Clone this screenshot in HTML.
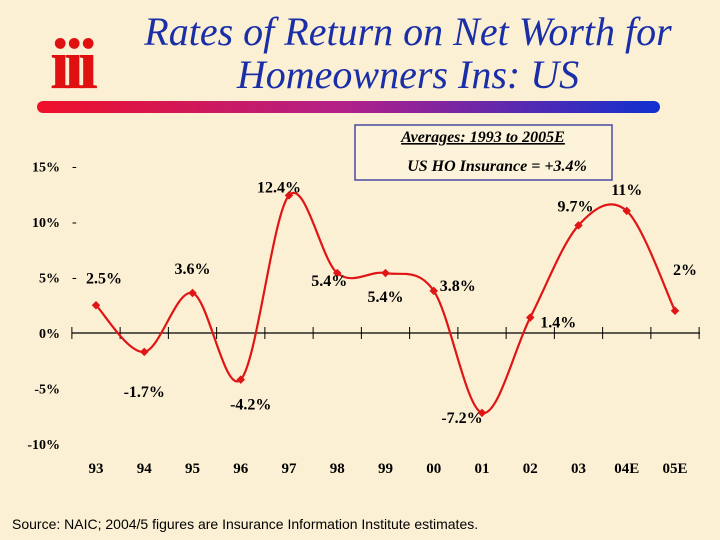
<!DOCTYPE html>
<html><head><meta charset="utf-8"><style>
body{margin:0;}
#c{position:relative;width:720px;height:540px;background:#fbf0d4;overflow:hidden;font-family:"Liberation Serif",serif;}
</style></head><body>
<div id="c">
<svg width="720" height="540">
<defs><linearGradient id="g" x1="0" x2="1"><stop offset="0" stop-color="#f0102a"/><stop offset="0.5" stop-color="#b0208a"/><stop offset="1" stop-color="#1030d0"/></linearGradient></defs>
<text x="71" y="88" font-size="72" font-weight="bold" fill="#e01010" text-anchor="middle" font-family="Liberation Serif,serif" letter-spacing="-6" transform="translate(71 0) scale(1 1.0) translate(-71 0)">iii</text>
<text x="408" y="45" font-size="40" font-style="italic" fill="#1a2ea8" text-anchor="middle">Rates of Return on Net Worth for</text>
<text x="408" y="88" font-size="40" font-style="italic" fill="#1a2ea8" text-anchor="middle">Homeowners Ins: US</text>
<rect x="37" y="101" width="623" height="12" rx="6" fill="url(#g)"/>
<rect x="355" y="125" width="257" height="55" fill="#fdf3da" stroke="#4a4aa0" stroke-width="1.5"/>
<text x="483" y="142" font-size="16" font-weight="bold" font-style="italic" text-anchor="middle" text-decoration="underline">Averages:  1993 to 2005E</text>
<text x="497" y="171" font-size="16" font-weight="bold" font-style="italic" text-anchor="middle">US HO Insurance = +3.4%</text>
<g id="axes"></g><g id="plot"></g>
<text x="12" y="529" font-size="14" font-family="Liberation Sans,sans-serif">Source:  NAIC; 2004/5 figures are Insurance Information Institute estimates.</text>
</svg>
</div>
<script>
const categories=["93","94","95","96","97","98","99","00","01","02","03","04E","05E"];
const values=[2.5,-1.7,3.6,-4.2,12.4,5.4,5.4,3.8,-7.2,1.4,9.7,11,2];
const valueLabels=["2.5%","-1.7%","3.6%","-4.2%","12.4%","5.4%","5.4%","3.8%","-7.2%","1.4%","9.7%","11%","2%"];
const yTicks=[15,10,5,0,-5,-10];
const yTickLabels=["15%","10%","5%","0%","-5%","-10%"];
const NS="http://www.w3.org/2000/svg";
const x=i=>96+i*48.25, y=v=>333-v*11.1;
const ax=document.getElementById('axes'), pl=document.getElementById('plot');
function mk(t,a,p){const e=document.createElementNS(NS,t);for(const k in a)e.setAttribute(k,a[k]);p.appendChild(e);return e;}
let l=mk('line',{x1:72,x2:700,y1:y(0),y2:y(0),stroke:'#000','stroke-width':1.2},ax);


for(let i=0;i<=categories.length;i++){const tx=x(i-0.5);const t=mk('line',{x1:tx,x2:tx,y1:y(0)-6,y2:y(0)+6,stroke:'#000'},ax);

}
yTicks.forEach((v,i)=>{const t=mk('text',{x:60,y:y(v)+5,'font-size':14,'font-weight':'bold','text-anchor':'end'},ax);t.textContent=yTickLabels[i];


if(v>0){const d=mk('text',{x:72,y:y(v)+4,'font-size':14},ax);d.textContent='-';

}});
categories.forEach((c,i)=>{const t=mk('text',{x:x(i),y:473,'font-size':15,'font-weight':'bold','text-anchor':'middle'},ax);t.textContent=c;

});
const P=values.map((v,i)=>[x(i),y(v)]);
let d='M'+P[0][0]+','+P[0][1];
for(let i=0;i<P.length-1;i++){const p0=P[i-1]||P[i],p1=P[i],p2=P[i+1],p3=P[i+2]||P[i+1];
d+=` C${p1[0]+(p2[0]-p0[0])/6},${p1[1]+(p2[1]-p0[1])/6} ${p2[0]-(p3[0]-p1[0])/6},${p2[1]-(p3[1]-p1[1])/6} ${p2[0]},${p2[1]}`;}
const path=mk('path',{d:d,fill:'none',stroke:'#e01515','stroke-width':2.2},pl);


const off=[[8,-22],[0,45],[0,-19],[10,30],[-10,-3],[-8,13],[0,29],[24,0],[-20,10],[28,10],[-3,-14],[0,-16],[10,-36]];
P.forEach((p,i)=>{const m=mk('rect',{x:p[0]-3,y:p[1]-3,width:6,height:6,fill:'#e01515',transform:`rotate(45 ${p[0]} ${p[1]})`},pl);


const t=mk('text',{x:p[0]+off[i][0],y:p[1]+off[i][1],'font-size':16,'font-weight':'bold','text-anchor':'middle'},pl);t.textContent=valueLabels[i];

});
</script>
</body></html>
